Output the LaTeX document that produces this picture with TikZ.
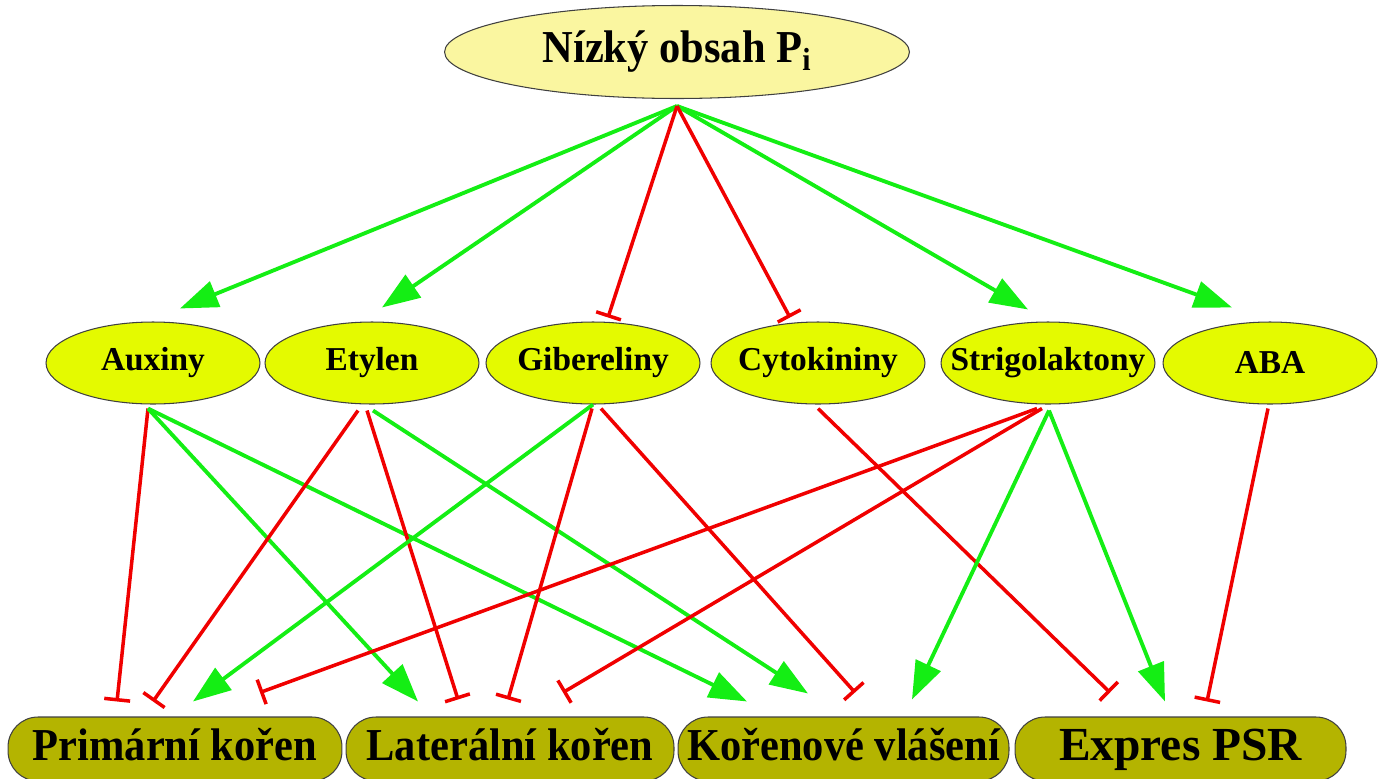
\documentclass[tikz,border=0pt]{standalone}
\usepackage{fontspec}
\setmainfont{Liberation Serif}
\newfontfamily\organfont{Liberation Serif}[FakeStretch=0.93]
\usetikzlibrary{arrows.meta,calc,shapes.geometric}

\definecolor{lowfill}{RGB}{250,246,160}
\definecolor{hormfill}{RGB}{228,250,0}
\definecolor{rootfill}{RGB}{180,180,0}
\definecolor{upgreen}{RGB}{20,238,20}
\definecolor{downred}{RGB}{240,0,0}

\newcommand{\hlabel}[1]{\makebox[0pt]{#1}}

\begin{document}
\begin{tikzpicture}[x=0.02cm,y=-0.02cm,
    hormone/.style={ellipse,draw=black!75,line width=0.6pt,fill=hormfill,inner sep=0pt,
      minimum width=4.28cm,minimum height=1.64cm,font=\bfseries\fontsize{19}{23}\selectfont},
    organ/.style={rectangle,rounded corners=0.6cm,draw=black!75,line width=0.6pt,fill=rootfill,
      inner sep=0pt,minimum width=6.62cm,minimum height=1.28cm,text height=18pt,text depth=5pt,
      font=\organfont\bfseries\fontsize{26}{30}\selectfont},
    promote/.style={draw=upgreen,line width=2.2pt,-{Triangle[length=7.6mm,width=5.4mm]}},
    inhibit/.style={draw=downred,line width=2pt,-{Bar[width=5.2mm]}}]
  \useasboundingbox (0,0) rectangle (1382,778);
  \clip (0,0) rectangle (1382,778);

  % top
  \node[ellipse,draw=black!75,line width=0.6pt,fill=lowfill,inner sep=0pt,minimum width=9.3cm,
    minimum height=1.86cm,font=\organfont\bfseries\fontsize{26}{30}\selectfont]
    (low) at (677,52) {\hlabel{Nízký obsah P\textsubscript{i}}};
  \coordinate (lowsrc) at ($(low.south)+(0,7)$);

  % hormones
  \node[hormone] (aux) at (153,363) {\hlabel{Auxiny}};
  \node[hormone] (ety) at (372,363) {\hlabel{Etylen}};
  \node[hormone] (gib) at (593,363) {\hlabel{Gibereliny}};
  \node[hormone] (cyt) at (818,363) {\hlabel{Cytokininy}};
  \node[hormone] (str) at (1048,363) {\hlabel{Strigolaktony}};
  \node[hormone] (aba) at (1270,363) {\hlabel{ABA}};

  % root responses
  \node[organ,minimum width=6.68cm] (pri) at (175,749) {Primární kořen};
  \node[organ,minimum width=6.56cm] (lat) at (510,749) {Laterální kořen};
  \node[organ] (kor) at (843.5,749) {Kořenové vlášení};
  \node[organ,font=\bfseries\fontsize{27}{32}\selectfont] (psr) at (1180.5,749) {Expres PSR};

  % Pi -> hormones
  \draw[promote] (lowsrc) -- ($(aux.north)+(27,-13)$);
  \draw[promote] (lowsrc) -- ($(ety.north)+(10,-14)$);
  \draw[promote] (lowsrc) -- ($(str.north)+(-20,-12)$);
  \draw[promote] (lowsrc) -- ($(aba.north)+(-38,-14)$);
  \draw[inhibit] (lowsrc) -- ($(gib.north)+(15,-4)$);
  \draw[inhibit] (lowsrc) -- ($(cyt.north)+(-28,-4)$);

  % hormones -> roots
  \draw[inhibit] ($(aux.south)+(-5,4)$) -- ($(pri.north)+(-58,-15)$);
  \draw[promote] ($(aux.south)+(-5,4)$) -- ($(lat.north)+(-92,-15)$);
  \draw[promote] ($(aux.south)+(-5,4)$) -- ($(kor.north)+(-96.5,-15)$);
  \draw[inhibit] ($(ety.south)+(-14,6)$) -- ($(pri.north)+(-22,-15)$);
  \draw[inhibit] ($(ety.south)+(-5,6)$) -- ($(lat.north)+(-52,-17)$);
  \draw[promote] ($(ety.south)+(1,6)$) -- ($(kor.north)+(-35.5,-23)$);
  \draw[promote] ($(gib.south)+(0,0)$) -- ($(pri.north)+(18,-15)$);
  \draw[inhibit] ($(gib.south)+(-1,4)$) -- ($(lat.north)+(-2,-17)$);
  \draw[inhibit] ($(gib.south)+(8,4)$) -- ($(kor.north)+(11.5,-24)$);
  \draw[inhibit] ($(cyt.south)+(0,4)$) -- ($(psr.north)+(-70.5,-24)$);
  \draw[inhibit] ($(str.south)+(-11,4)$) -- ($(pri.north)+(85,-24)$);
  \draw[inhibit] ($(str.south)+(-6,4)$) -- ($(lat.north)+(53,-24)$);
  \draw[promote] ($(str.south)+(1,6)$) -- ($(kor.north)+(68.5,-17)$);
  \draw[promote] ($(str.south)+(1,6)$) -- ($(psr.north)+(-15.5,-15)$);
  \draw[inhibit] ($(aba.south)+(-2,4)$) -- ($(psr.north)+(26.5,-15)$);
\end{tikzpicture}
\end{document}
